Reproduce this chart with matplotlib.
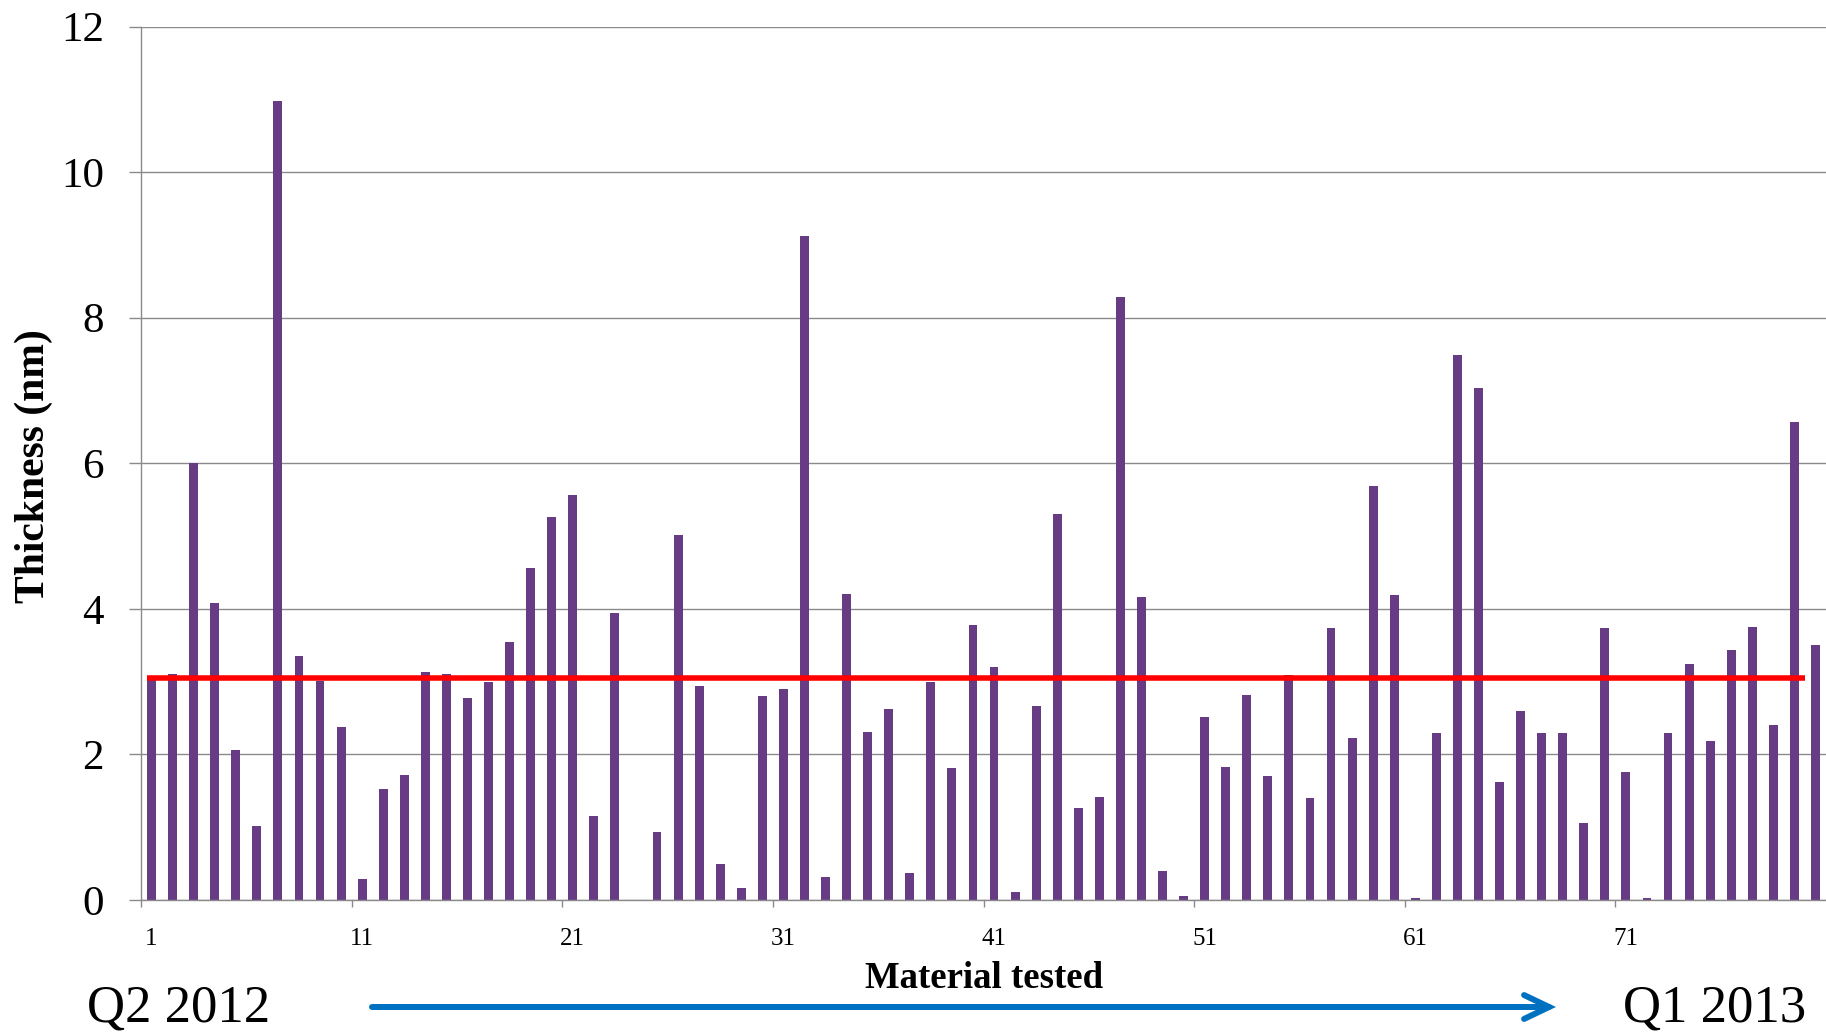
import matplotlib
matplotlib.use("Agg")
import matplotlib.pyplot as plt
from matplotlib.patches import FancyArrowPatch
import numpy as np

# ---- data ----
thickness = [3.05, 3.10, 6.00, 4.08, 2.06, 1.02, 10.97, 3.35, 3.01, 2.38,
             0.29, 1.53, 1.72, 3.13, 3.11, 2.77, 2.99, 3.54, 4.56, 5.26,
             5.56, 1.15, 3.94, 0.00, 0.94, 5.02, 2.94, 0.50, 0.17, 2.80,
             2.90, 9.12, 0.32, 4.20, 2.31, 2.62, 0.37, 2.99, 1.81, 3.78,
             3.20, 0.11, 2.66, 5.30, 1.26, 1.41, 8.29, 4.16, 0.40, 0.06,
             2.51, 1.83, 2.81, 1.70, 3.09, 1.40, 3.73, 2.23, 5.69, 4.19,
             0.03, 2.29, 7.49, 7.03, 1.62, 2.60, 2.30, 2.30, 1.06, 3.73,
             1.76, 0.03, 2.29, 3.24, 2.19, 3.44, 3.75, 2.41, 6.56, 3.51]
materials = list(range(1, len(thickness) + 1))
average_value = 3.05
xtick_labels = ["1", "11", "21", "31", "41", "51", "61", "71"]
yticks = [0, 2, 4, 6, 8, 10, 12]
start_label = "Q2 2012"
end_label = "Q1 2013"

plt.rcParams['font.family'] = ['Liberation Serif', 'DejaVu Serif']

W, H = 1826, 1034
fig = plt.figure(figsize=(W / 100, H / 100), dpi=100)
ax = fig.add_axes([141 / W, 1 - 900 / H, 1 - 141 / W, (900 - 26.5) / H])

grid_c = '#8a8a8a'
pos = np.arange(len(thickness))
ax.bar(pos, thickness, width=0.42, color='#673C84', zorder=3)
ax.plot([-0.22, 78.5], [average_value, average_value], color='#FF0000', lw=4.0,
        zorder=4, solid_capstyle='butt')

ax.set_xlim(-0.5, len(thickness) - 0.5)
ax.set_ylim(0, 12)
ax.set_yticks(yticks)
ax.set_yticklabels([str(v) for v in yticks], fontsize=31)
ax.yaxis.grid(True, color=grid_c, lw=1.0, zorder=0)
ax.tick_params(axis='y', length=8.6, width=1.0, color=grid_c, pad=18, direction='out')

label_pos = [materials.index(int(t)) for t in xtick_labels]
ax.set_xticks(label_pos)
ax.set_xticklabels(xtick_labels, fontsize=18)
ax.tick_params(axis='x', which='major', length=0, pad=20)
ax.set_xticks([p - 0.5 for p in label_pos], minor=True)
ax.tick_params(axis='x', which='minor', length=5, width=1.0, color=grid_c, direction='out')

for s in ['top', 'right']:
    ax.spines[s].set_visible(False)
for s in ['left', 'bottom']:
    ax.spines[s].set_color(grid_c)
    ax.spines[s].set_linewidth(1.0)
    ax.spines[s].set_zorder(5)

fig.text(34 / W, 1 - 466 / H, "Thickness (nm)", rotation=90, ha='center', va='center',
         fontsize=30, fontweight='bold')
fig.text(984 / W, 1 - 988 / H, "Material tested", ha='center', va='baseline',
         fontsize=26.5, fontweight='bold')
fig.text(87 / W, 1 - 1022 / H, start_label, ha='left', va='baseline', fontsize=38)
fig.text(1806 / W, 1 - 1022 / H, end_label, ha='right', va='baseline', fontsize=38)

arrow = FancyArrowPatch((372 / W, 1 - 1007 / H), (1556 / W, 1 - 1007 / H),
                        transform=fig.transFigure,
                        arrowstyle='->,head_length=18,head_width=8.6',
                        mutation_scale=1, lw=4.3, color='#0070C0',
                        shrinkA=0, shrinkB=0, capstyle='round', joinstyle='miter')
fig.add_artist(arrow)

fig.savefig('out.png', dpi=100)
